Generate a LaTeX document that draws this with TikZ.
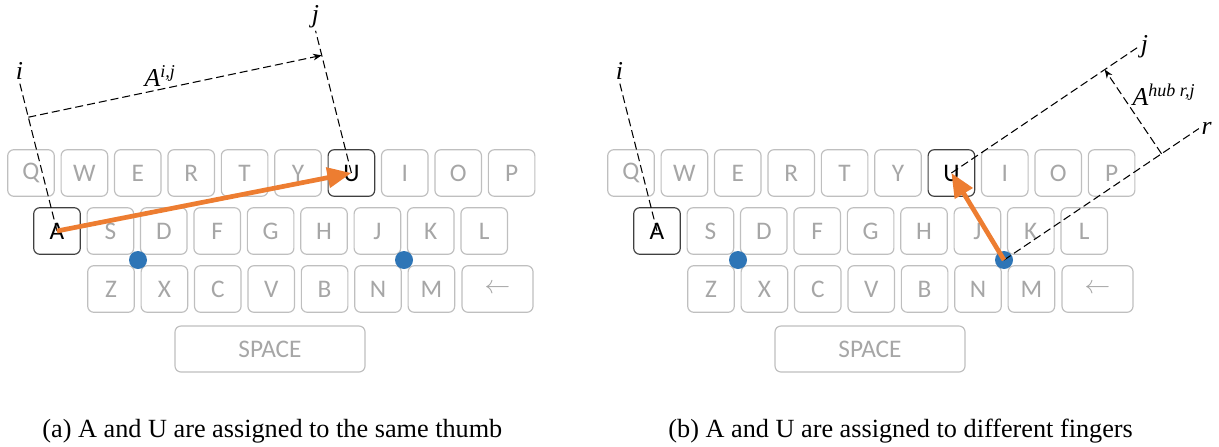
\documentclass[tikz,border=0pt]{standalone}
\usepackage{fontspec}
\setmainfont{Liberation Serif}
\newfontfamily\keyfont{Carlito}
\usetikzlibrary{calc, arrows.meta}
\definecolor{keyline}{HTML}{BFBFBF}
\definecolor{keytext}{HTML}{A6A6A6}
\definecolor{hotline}{HTML}{404040}
\definecolor{moveor}{HTML}{ED7D31}
\definecolor{hubblue}{HTML}{2E75B6}
\tikzstyle{key}=[draw=keyline,line width=0.5pt,rounded corners=0.9mm,minimum width=6.98mm,minimum height=6.98mm,inner sep=0pt,text=keytext,font=\keyfont\fontsize{10.8}{12}\selectfont]
\tikzstyle{hot}=[key,draw=hotline,text=black]
\tikzstyle{hub}=[circle,fill=hubblue,inner sep=0pt,minimum size=2.7mm]
\tikzstyle{ext}=[black,line width=0.45pt,dash pattern=on 1.2mm off 0.6mm]
\tikzstyle{move}=[moveor,line width=2pt,-{Triangle[length=3.6mm,width=3mm]}]
\tikzstyle{lbl}=[font=\fontsize{11}{13}\selectfont\itshape,inner sep=1pt]
\tikzstyle{subcap}=[anchor=base west,inner sep=0pt,font=\fontsize{11.2}{13}\selectfont]

\begin{document}
\begin{tikzpicture}[x=0.15mm,y=-0.15mm]
\useasboundingbox (0,0) rectangle (1219,446);
% both keyboards
\foreach \ox/\p in {0/a,600/b} {
    \foreach \k/\s [count=\n from 0] in {Q/key,W/key,E/key,R/key,T/key,Y/key,U/hot,I/key,O/key,P/key}
        \node[\s] (\p\k) at (\ox+31+\n*53.4,173) {\k};
    \foreach \k/\s [count=\n from 0] in {A/hot,S/key,D/key,F/key,G/key,H/key,J/key,K/key,L/key}
        \node[\s] (\p\k) at (\ox+57+\n*53.4,231) {\k};
    \foreach \k [count=\n from 0] in {Z,X,C,V,B,N,M}
        \node[key] (\p\k) at (\ox+111+\n*53.4,289) {\k};
    \node[key,minimum width=10.65mm] (\p-back) at (\ox+497.5,289) {$\leftarrow$};
    \node[key,minimum width=28.5mm,minimum height=6.9mm] (\p-space) at (\ox+270,349) {SPACE};
    \node[hub] (\p hubl) at (\ox+138,260) {};
    \node[hub] (\p hubr) at (\ox+404,260) {};
    \coordinate (\p i) at ($(\p A.center)!23mm!93:(\p U.center)$);
    \draw[ext] (\p A.center) -- (\p i) node[lbl,above] {i};
}
% (a) same thumb
\coordinate (aj) at ($(aU.center)!22mm!-87:(aA.center)$);
\coordinate (ad1) at ($(aA.center)!17.6mm!93:(aU.center)$);
\coordinate (ad2) at ($(aU.center)!18.2mm!-87:(aA.center)$);
\draw[ext] (aU.center) -- (aj) node[lbl,above] {j};
\draw[ext,-{Stealth[length=1.3mm,width=1mm]}] (ad1) -- (ad2) node[lbl,pos=0.45,above] {A\textsuperscript{i,j}};
\draw[move] (aA.center) -- (aU.center);
% (b) different fingers
\coordinate (bj) at ($(bU.center)+(-34:225)$);
\coordinate (br) at ($(bhubr.center)+(-34:235)$);
\coordinate (bd1) at ($(bhubr.center)+(-34:190)$);
\coordinate (bd2) at ($(bU.center)!(bd1)!(bj)$);
\draw[ext] (bU.center) -- (bj) node[lbl,right] {j};
\draw[ext] (bhubr.center) -- (br) node[lbl,right] {r};
\draw[ext,-{Stealth[length=1.3mm,width=1mm]}] (bd1) -- (bd2) node[lbl,pos=0.7,right=1.2mm] {A\textsuperscript{hub r,j}};
\draw[move] (bhubr.center) -- (bU.center);
% captions
\node[subcap] (capa) at (42,437) {(a) A and U are assigned to the same thumb};
\node[subcap] (capb) at (668,437) {(b) A and U are assigned to different fingers};
\end{tikzpicture}
\end{document}
